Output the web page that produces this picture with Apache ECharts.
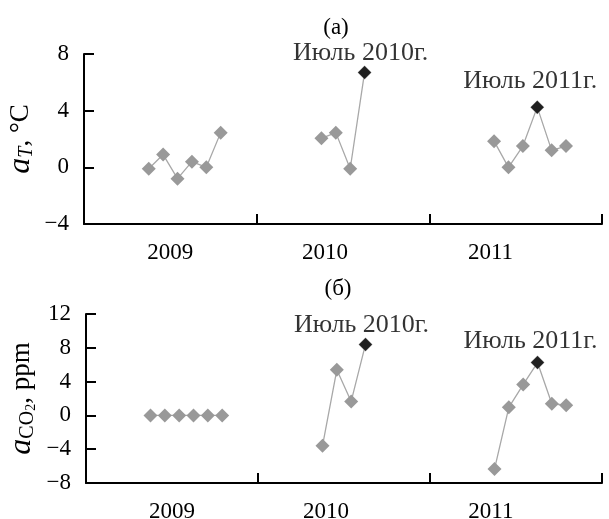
<!DOCTYPE html>
<html>
<head>
<meta charset="utf-8">
<script src="https://cdn.jsdelivr.net/npm/echarts@6/dist/echarts.min.js"></script>
<style>html,body{margin:0;padding:0;background:#fff;}#c{width:609px;height:519px;}</style>
</head>
<body>
<div id="c"></div>
<script>
// ---- data ----
var years = [2009, 2010, 2011];
var yearLabels = ['2009', '2010', '2011'];
var yearLabelAt = [5.5, 16.25, 27.75];      // month ordinal under which each year label sits
var yearTicks = [-0.5, 11.5, 23.5, 35.5];   // year boundaries
var months2009 = [4, 5, 6, 7, 8, 9];
var months2010 = [4, 5, 6, 7];
var months2011 = [4, 5, 6, 7, 8, 9];
var aT2009 = [-0.1, 0.9, -0.8, 0.4, 0.0, 2.45];
var aT2010 = [2.05, 2.45, -0.1, 6.7];
var aT2011 = [1.85, 0.0, 1.5, 4.25, 1.2, 1.5];
var aCO2_2009 = [0, 0, 0, 0, 0, 0];
var aCO2_2010 = [-3.6, 5.4, 1.65, 8.4];
var aCO2_2011 = [-6.35, 0.95, 3.65, 6.25, 1.38, 1.2];
var highlightMonth = 7;
var highlightLabels = {2010: 'Июль 2010г.', 2011: 'Июль 2011г.'};
var panelTitles = ['(а)', '(б)'];
var yTicksA = [-4, 0, 4, 8];
var yTicksB = [-8, -4, 0, 4, 8, 12];

var FONT = "'Liberation Serif','Times New Roman',serif";
var monthsByYear = [months2009, months2010, months2011];
var aTByYear = [aT2009, aT2010, aT2011];
var aCO2ByYear = [aCO2_2009, aCO2_2010, aCO2_2011];

function ord(yearIdx, m) { return yearIdx * 12 + m; }

function buildSeries(valsByYear, axisIdx, labelOffsets) {
  var out = [];
  var hl = [];
  for (var i = 0; i < years.length; i++) {
    var pts = [];
    for (var j = 0; j < monthsByYear[i].length; j++) {
      var p = [ord(i, monthsByYear[i][j]), valsByYear[i][j]];
      pts.push(p);
      if (monthsByYear[i][j] === highlightMonth && highlightLabels[years[i]]) {
        hl.push({value: p, label: {offset: labelOffsets[years[i]], formatter: highlightLabels[years[i]]}});
      }
    }
    out.push({
      type: 'line', xAxisIndex: axisIdx, yAxisIndex: axisIdx, data: pts,
      symbol: 'diamond', symbolSize: 14, showAllSymbol: true,
      lineStyle: {color: '#a8a8a8', width: 1.3},
      itemStyle: {color: '#999999'}, silent: true, animation: false, z: 2
    });
  }
  out.push({
    type: 'scatter', xAxisIndex: axisIdx, yAxisIndex: axisIdx, data: hl,
    symbol: 'diamond', symbolSize: 13, itemStyle: {color: '#000'},
    label: {show: true, position: 'top', distance: 0, color: '#000', fontFamily: FONT, fontSize: 26},
    silent: true, animation: false, z: 5
  });
  return out;
}

function xAxis(gridIdx) {
  return {
    type: 'value', gridIndex: gridIdx, min: -0.5, max: 35.5,
    splitLine: {show: false},
    axisLine: {show: true, onZero: false, lineStyle: {color: '#000', width: 2}},
    axisTick: {show: true, inside: true, length: 10, customValues: yearTicks, lineStyle: {color: '#000', width: 2}},
    axisLabel: {
      show: true, customValues: yearLabelAt, margin: 17,
      fontFamily: FONT, fontSize: 23, color: '#000',
      formatter: function (v) {
        for (var k = 0; k < yearLabelAt.length; k++) if (Math.abs(yearLabelAt[k] - v) < 1e-6) return yearLabels[k];
        return '';
      }
    }
  };
}

function yAxis(gridIdx, ticks, name, gap) {
  return {
    type: 'value', gridIndex: gridIdx, min: ticks[0], max: ticks[ticks.length - 1], interval: 4,
    splitLine: {show: false},
    axisLine: {show: true, onZero: false, lineStyle: {color: '#000', width: 2}},
    axisTick: {show: true, inside: true, length: 10, lineStyle: {color: '#000', width: 2}},
    axisLabel: {
      margin: 15, fontFamily: FONT, fontSize: 23, color: '#000',
      formatter: function (v) { return String(v).replace('-', '\u2212'); }
    },
    name: name, nameLocation: 'middle', nameGap: gap, nameMoveOverlap: false,
    nameTextStyle: {
      fontFamily: FONT, color: '#000',
      rich: {
        it: {fontFamily: FONT, fontStyle: 'italic', fontSize: 32, lineHeight: 32},
        subit: {fontFamily: FONT, fontStyle: 'italic', fontSize: 20, lineHeight: 17, verticalAlign: 'bottom'},
        sub: {fontFamily: FONT, fontSize: 20, lineHeight: 17, verticalAlign: 'bottom'},
        sub2: {fontFamily: FONT, fontSize: 14, lineHeight: 13, verticalAlign: 'bottom'},
        n: {fontFamily: FONT, fontSize: 27, lineHeight: 32}
      }
    }
  };
}

var chart = echarts.init(document.getElementById('c'), null, {renderer: 'canvas'});
var series = []
  .concat(buildSeries(aTByYear, 0, {2010: [-4, 0], 2011: [-7, -6]}))
  .concat(buildSeries(aCO2ByYear, 1, {2010: [-4, 0], 2011: [-7, -2]}));

chart.setOption({
  backgroundColor: '#fff',
  animation: false,
  title: [
    {text: panelTitles[0], left: 331, top: 11, textAlign: 'center', textStyle: {fontFamily: FONT, fontSize: 23, fontWeight: 'normal', color: '#000'}},
    {text: panelTitles[1], left: 333, top: 272, textAlign: 'center', textStyle: {fontFamily: FONT, fontSize: 23, fontWeight: 'normal', color: '#000'}}
  ],
  grid: [
    {left: 84, right: 7, top: 54, height: 170, outerBoundsMode: 'none', containLabel: false},
    {left: 86, right: 7, top: 314, height: 169, outerBoundsMode: 'none', containLabel: false}
  ],
  xAxis: [xAxis(0), xAxis(1)],
  yAxis: [
    yAxis(0, yTicksA, '{it|a}{subit|T}{n|, °C}', 47),
    yAxis(1, yTicksB, '{it|a}{sub|CO}{sub2|2}{n|, ppm}', 48)
  ],
  series: series
});
</script>
</body>
</html>
